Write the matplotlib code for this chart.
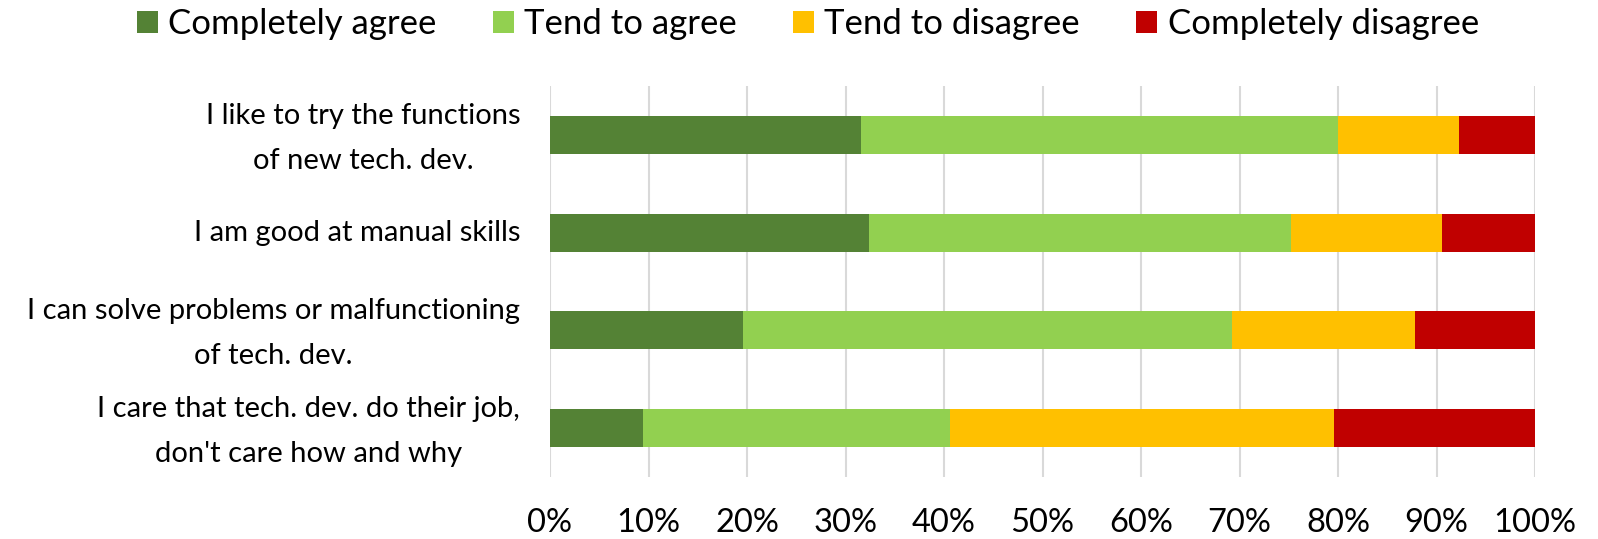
import matplotlib
matplotlib.use("Agg")
import matplotlib.pyplot as plt
import numpy as np

categories = [
    "I like to try the functions\nof new tech. dev.",
    "I am good at manual skills",
    "I can solve problems or malfunctioning\nof tech. dev.",
    "I care that tech. dev. do their job,\ndon't care how and why",
]
series_names = ["Completely agree", "Tend to agree", "Tend to disagree", "Completely disagree"]
completely_agree = [31.6, 32.4, 19.6, 9.4]
tend_to_agree = [48.4, 42.8, 49.6, 31.2]
tend_to_disagree = [12.3, 15.4, 18.6, 39.0]
completely_disagree = [7.7, 9.4, 12.2, 20.4]
colors = ["#548235", "#92D050", "#FFC000", "#C00000"]
xticks = [0, 10, 20, 30, 40, 50, 60, 70, 80, 90, 100]

plt.rcParams['font.family'] = ['Lato', 'DejaVu Sans']

fig = plt.figure(figsize=(15.98, 5.39), dpi=100)
ax = fig.add_axes([550/1598, 62/539, 985/1598, 391/539])

y = np.arange(len(categories))
left = np.zeros(len(categories))
handles = []
for vals, name, c in zip([completely_agree, tend_to_agree, tend_to_disagree, completely_disagree],
                         series_names, colors):
    b = ax.barh(y, vals, left=left, height=0.39, color=c, label=name, zorder=3)
    handles.append(b)
    left += np.array(vals)

ax.set_xlim(0, 100)
ax.set_ylim(3.5, -0.5)
ax.set_xticks(xticks)
ax.set_xticklabels([f"{v}%" for v in xticks], fontsize=23.5)
ax.set_yticks(y)
ax.set_yticklabels([])
for yi, lab in zip(y, categories):
    dy = -2.5 if "\n" in lab else 0
    ax.annotate(lab, xy=(0, yi), xycoords=('axes fraction', 'data'),
                xytext=(-21.5, dy), textcoords='offset points',
                ha='right', va='center', multialignment='center',
                fontsize=21, linespacing=1.9, annotation_clip=False)
ax.tick_params(axis='x', length=0, pad=22)
ax.tick_params(axis='y', length=0, pad=21.5)
ax.grid(axis='x', color='#D9D9D9', linewidth=1.5, zorder=0)
for s in ax.spines.values():
    s.set_visible(False)

fig.legend(handles=handles, labels=series_names, loc='center', bbox_to_anchor=(808/1598, 1 - 24/539),
           ncol=4, frameon=False, fontsize=25, handlelength=0.6, handleheight=0.6,
           handletextpad=0.3, columnspacing=1.62, borderpad=0, borderaxespad=0)

fig.savefig("out.png", dpi=100)
